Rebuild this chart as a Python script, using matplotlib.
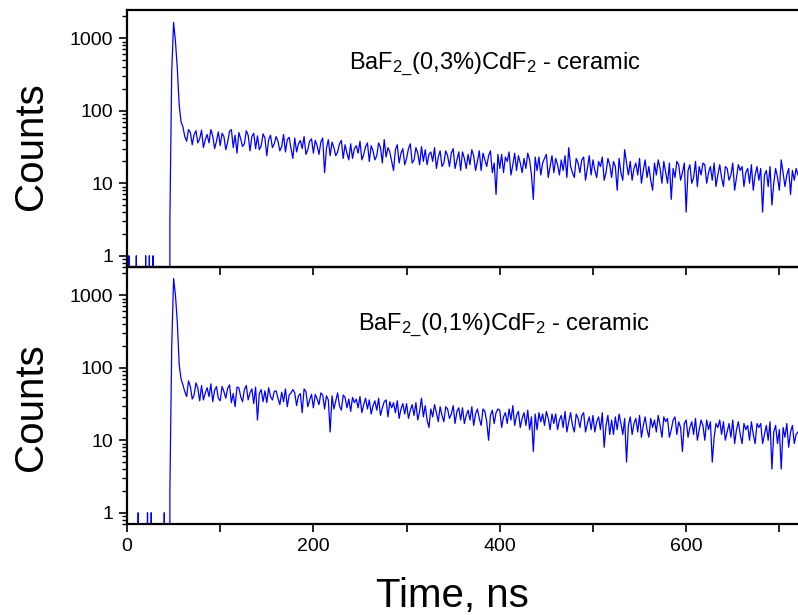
import numpy as np
import matplotlib
matplotlib.use("Agg")
import matplotlib.pyplot as plt
from matplotlib.ticker import FixedLocator, LogLocator, NullFormatter, MultipleLocator, FuncFormatter

# ============================================================
# DATA (counts per 2 ns channel)
# ============================================================

counts_03 = [
    0, 1, 0, 0, 0, 1, 0, 0, 0, 0,
    1, 0, 1, 0, 1, 0, 0, 0, 0, 0,
    0, 0, 0, 3, 350, 1650, 900, 380, 120, 70,
    60, 44, 38, 55, 50, 34, 47, 53, 36, 41,
    54, 31, 40, 47, 36, 55, 45, 30, 38, 51,
    33, 49, 44, 29, 37, 52, 55, 31, 46, 26,
    50, 41, 32, 35, 53, 46, 28, 44, 49, 30,
    45, 29, 33, 48, 42, 24, 40, 46, 31, 35,
    44, 38, 28, 32, 47, 27, 40, 43, 30, 22,
    42, 27, 35, 39, 30, 44, 25, 29, 38, 41,
    26, 39, 33, 25, 37, 42, 14, 30, 40, 24,
    37, 31, 24, 27, 35, 39, 22, 34, 26, 21,
    35, 22, 30, 33, 26, 38, 21, 25, 32, 36,
    20, 33, 28, 21, 24, 36, 31, 19, 40, 23,
    31, 27, 20, 15, 29, 34, 19, 26, 30, 18,
    22, 30, 35, 19, 21, 31, 26, 18, 32, 20,
    29, 18, 25, 27, 20, 31, 16, 23, 28, 17,
    19, 28, 24, 17, 26, 30, 16, 21, 27, 15,
    27, 22, 16, 25, 18, 29, 24, 15, 20, 28,
    15, 26, 21, 17, 24, 28, 14, 19, 7, 25,
    16, 25, 14, 23, 20, 27, 13, 18, 26, 15,
    24, 19, 14, 22, 16, 26, 21, 13, 6, 23,
    15, 23, 13, 19, 22, 25, 12, 17, 24, 14,
    22, 18, 13, 21, 15, 24, 12, 31, 17, 14,
    12, 22, 19, 14, 21, 23, 11, 16, 24, 13,
    21, 15, 12, 20, 17, 23, 11, 14, 22, 18,
    12, 20, 17, 8, 22, 14, 11, 29, 19, 13,
    20, 11, 16, 19, 13, 22, 10, 15, 21, 12,
    17, 11, 8, 19, 13, 21, 16, 10, 20, 14,
    10, 19, 6, 16, 12, 20, 18, 11, 14, 19,
    4, 15, 18, 10, 12, 20, 9, 17, 13, 19,
    18, 10, 14, 17, 11, 19, 9, 13, 18, 12,
    9, 17, 16, 11, 13, 19, 8, 12, 18, 15,
    17, 9, 14, 16, 10, 18, 8, 13, 17, 11,
    16, 4, 13, 15, 9, 17, 5, 10, 16, 12,
    8, 21, 14, 9, 13, 16, 7, 15, 11, 16,
    13,
]

counts_01 = [
    0, 0, 0, 0, 0, 0, 1, 0, 0, 0,
    0, 1, 0, 1, 0, 0, 0, 0, 0, 0,
    1, 0, 0, 2, 200, 1700, 1000, 420, 110, 70,
    58, 47, 40, 66, 55, 37, 42, 62, 52, 35,
    57, 36, 45, 53, 40, 60, 34, 49, 55, 38,
    35, 55, 47, 38, 52, 58, 33, 44, 29, 54,
    53, 40, 34, 50, 57, 36, 45, 51, 32, 54,
    19, 44, 50, 34, 48, 33, 53, 40, 36, 47,
    48, 38, 31, 46, 34, 51, 29, 42, 45, 50,
    45, 30, 41, 44, 24, 51, 47, 29, 36, 43,
    28, 43, 37, 31, 45, 42, 27, 41, 36, 13,
    41, 27, 35, 45, 30, 26, 42, 39, 28, 37,
    25, 39, 33, 37, 28, 40, 24, 31, 38, 27,
    36, 23, 30, 35, 26, 38, 22, 28, 34, 36,
    21, 34, 28, 33, 24, 35, 20, 27, 32, 23,
    32, 20, 26, 31, 22, 33, 19, 25, 38, 21,
    30, 19, 15, 27, 21, 31, 24, 18, 29, 22,
    18, 29, 27, 20, 23, 30, 17, 25, 28, 19,
    28, 17, 22, 26, 19, 29, 16, 23, 27, 20,
    16, 27, 25, 18, 10, 22, 26, 17, 24, 27,
    26, 15, 21, 24, 17, 27, 19, 30, 16, 22,
    25, 15, 20, 24, 16, 26, 14, 21, 7, 23,
    14, 24, 18, 23, 16, 25, 20, 14, 23, 17,
    23, 14, 19, 22, 15, 25, 13, 18, 24, 16,
    13, 23, 20, 15, 22, 24, 13, 17, 21, 14,
    22, 13, 18, 21, 14, 24, 8, 16, 22, 12,
    19, 12, 21, 14, 23, 17, 12, 20, 5, 16,
    21, 12, 17, 20, 13, 22, 11, 16, 21, 14,
    11, 20, 15, 19, 13, 22, 16, 11, 21, 18,
    20, 11, 14, 19, 21, 12, 18, 15, 7, 17,
    19, 11, 15, 18, 12, 20, 10, 14, 19, 16,
    10, 19, 14, 18, 5, 11, 17, 15, 19, 12,
    18, 10, 13, 17, 11, 19, 9, 14, 18, 12,
    9, 17, 14, 16, 10, 18, 12, 9, 17, 15,
    17, 9, 12, 16, 10, 18, 4, 13, 16, 9,
    14, 4, 15, 11, 17, 8, 13, 16, 9, 12,
    13,
]

channel_ns = 2
labels = [r"BaF$_{2\_}$(0,3%)CdF$_2$ - ceramic", r"BaF$_{2\_}$(0,1%)CdF$_2$ - ceramic"]
ytick_vals = [1, 10, 100, 1000]
ytick_text = ["1", "10", "100", "1000"]

# ============================================================
# PLOT
# ============================================================

plt.rcParams["font.family"] = ["Liberation Sans", "DejaVu Sans"]
plt.rcParams["mathtext.default"] = "regular"

W, H = 798, 615
fig = plt.figure(figsize=(W / 100, H / 100), dpi=100)

left = 127 / W
panels = [(10, 267), (267, 524)]
axes = []
for top, bot in panels:
    ax = fig.add_axes([left, 1 - bot / H, 1 - left, (bot - top) / H])
    axes.append(ax)


def ylab(v, p):
    r = int(round(v))
    return ytick_text[ytick_vals.index(r)] if r in ytick_vals else ""


text_pos = [(0.331, 0.770), (0.344, 0.755)]
for i, (ax, counts) in enumerate(zip(axes, [counts_03, counts_01])):
    t = channel_ns * np.arange(len(counts))
    ax.plot(t, counts, color="#0000ff", lw=0.9)
    ax.set_yscale("log", nonpositive="clip")
    ax.set_ylim(0.7, 2450)
    ax.set_xlim(0, 720)
    ax.yaxis.set_major_locator(FixedLocator(ytick_vals))
    ax.yaxis.set_major_formatter(FuncFormatter(ylab))
    ax.yaxis.set_minor_locator(LogLocator(base=10, subs=np.arange(2, 10)))
    ax.yaxis.set_minor_formatter(NullFormatter())
    ax.xaxis.set_major_locator(MultipleLocator(100))
    ax.xaxis.set_major_formatter(FuncFormatter(lambda v, p: f"{v:.0f}" if round(v) % 200 == 0 else ""))
    ax.tick_params(axis="both", which="major", direction="out", length=6, width=1.2,
                   labelsize=14, pad=4, top=False, right=False)
    ax.tick_params(axis="y", which="minor", direction="out", length=3.5, width=1.0, right=False)
    ax.tick_params(axis="x", which="minor", bottom=False, top=False)
    for s in ["top", "bottom", "left"]:
        ax.spines[s].set_linewidth(1.6)
    ax.spines["right"].set_visible(False)
    ax.text(text_pos[i][0], text_pos[i][1], labels[i], transform=ax.transAxes,
            fontsize=17, va="baseline", ha="left")
    fig.text(31 / W, 1 - (146 + 261 * i) / H, "Counts", rotation=90,
             fontsize=29, ha="center", va="center")

axes[0].tick_params(axis="x", labelbottom=False)
axes[1].patch.set_visible(False)
axes[0].set_zorder(2)
axes[0].patch.set_visible(False)

fig.text(452 / W, 1 - 607 / H, "Time, ns", fontsize=29, ha="center", va="baseline")

fig.savefig("out.png", dpi=100)
